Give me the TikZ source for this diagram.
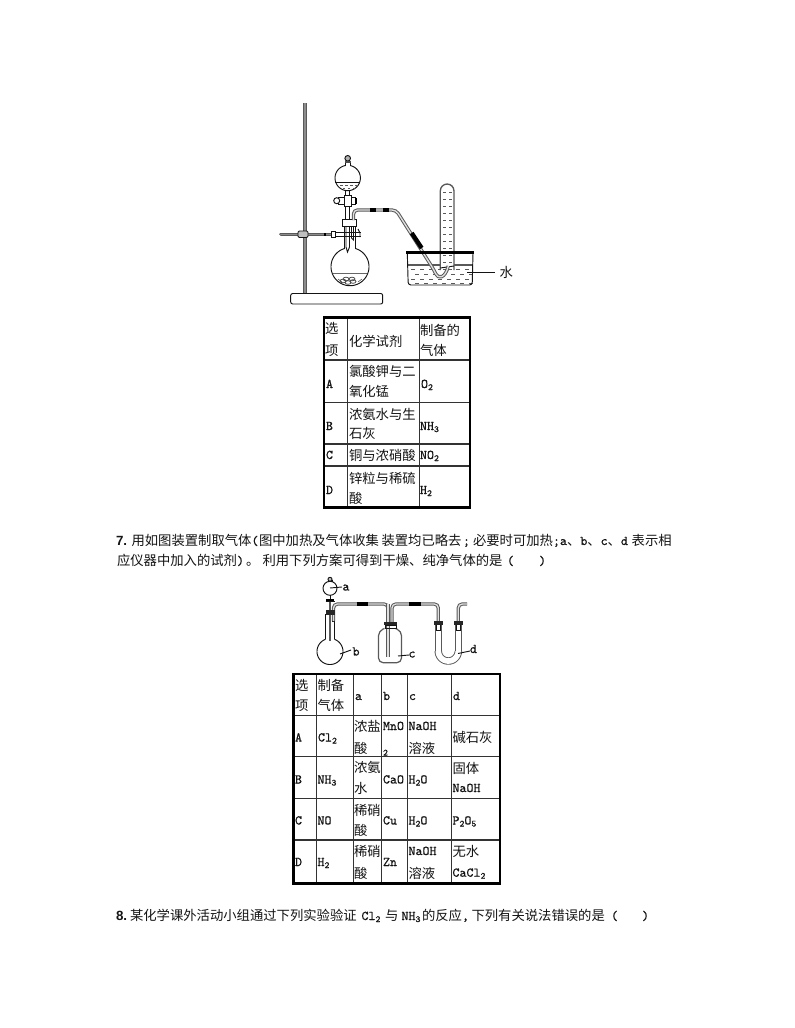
\documentclass[tikz,border=0pt]{standalone}
\usepackage{fontspec}
\setmainfont{Noto Sans CJK SC}
\setmonofont{Latin Modern Mono}[FakeBold=0.6]
\newfontfamily\boldlat{Liberation Sans}[Scale=1]
\newcommand{\lt}[1]{{\ttfamily #1}}
\newcommand{\sbs}[1]{{\ttfamily\fontsize{7pt}{7pt}\selectfont\raisebox{-1.5pt}{#1}}}
\newcommand{\fwid}[1]{\makebox[10pt][l]{#1}}
\definecolor{inkk}{gray}{0.08}
\definecolor{tubeg}{gray}{0.35}
\tikzset{
  txt/.style={anchor=base west,inner sep=0pt,outer sep=0pt,font=\fontsize{10pt}{15pt}\selectfont,text=inkk},
  thin line/.style={draw=inkk,line width=0.7pt},
  tube/.style={draw=tubeg,line width=0.75pt,double=black!12,double distance=1pt,rounded corners=3pt},
  rodline/.style={draw=tubeg,line width=0.75pt,double=black!45,double distance=1.2pt},
  rubber/.style={draw=black,line width=3.2pt},
  outerline/.style={draw=black,line width=2pt},
  innerline/.style={draw=black!80,line width=0.85pt},
  waterdash/.style={draw=black!65,line width=0.6pt}
}
\newcommand{\cell}[4]{\node[txt] (#1) at (#2,#3) {#4};}
\begin{document}
\begin{tikzpicture}[x=0.75pt,y=-0.75pt]
\useasboundingbox (0,0) rectangle (794,1028);
\fill[white] (0,0) rectangle (794,1028);

%%% Apparatus 1
% stand
\draw[rodline] (305,103) -- (305,293);
\draw[thin line,fill=white,rounded corners=1.5pt] (290.7,293.5) -- (382.7,293.5) -- (382.7,304) -- (290.7,304) -- cycle;
\draw[rodline,line cap=round] (281,234.3) -- (332,234.3);
\draw[thin line,fill=black!25,rounded corners=1pt] (298,231) rectangle (308,237.5);
\fill[black] (323.5,232.5) rectangle (325.5,236);
\draw[thin line,fill=white] (331,231.5) rectangle (335,237);
\draw[thin line] (335,232) -- (361,232) (335,236.5) -- (361,236.5);
\draw[thin line] (358,229) -- (360,233) -- (360,237);
% flask
\draw[thin line,fill=white] plot[samples=70,domain=253.2:-73.2] ({350+19*cos(\x)},{266.7+19*sin(\x)});
\draw[thin line] (344.5,226) -- (344.5,248.5) (355.5,226) -- (355.5,248.5);
\draw[draw=black!60,line width=0.9pt] (333,273.3) -- (367,273.3);
\foreach \a/\b in {343/281,348/282.5,353/281.5,346/279,352/279}{
  \draw[draw=black!70,line width=0.6pt] (\a,\b) ellipse [x radius=3,y radius=1.8];
}
\draw[draw=black!70,line width=0.4pt] (338,279)--(342,282) (362,279)--(358,282);
% stem into flask
\draw[thin line] (346,226) -- (346,247) -- (347.5,252) -- (349.5,247) -- (349.5,226);
\draw[thin line] (351.5,226) -- (351.5,238) -- (353.5,240) -- (353.5,226);
% stopper flask
\draw[thin line,fill=white] (342.7,219) rectangle (356,226);
% funnel
\draw[thin line,fill=white] plot[samples=60,domain=-110:280] ({347.7+12.7*cos(\x)},{178+12.7*sin(\x)});
\draw[thin line] (335.3,182.7) -- (360.1,182.7);
\foreach \a in {340,345,350,355}{\draw[waterdash] (\a,185.5) -- (\a+2.5,185.5);}
\foreach \a in {343,348,353}{\draw[waterdash] (\a,188) -- (\a+2,188);}
\draw[thin line,fill=white] (345,166) -- (345,161.5) -- (350.5,161.5) -- (350.5,166);
\draw[thin line,fill=black!30] (347.7,158.3) circle [radius=2.8];
\fill[black!70] (344.5,160.5) rectangle (351,162.5);
\draw[thin line] (345.8,190) -- (345.8,219) (349.8,190) -- (349.8,219);
% stopcock
\draw[thin line,fill=white] (338,197.5) rectangle (355,204);
\fill[black] (355,198) rectangle (356.8,203.5);
\draw[thin line,fill=white] (336.7,200.7) circle [radius=3];
\draw[thin line,fill=white] (344,195) rectangle (351,206);
% water trough
\foreach \r/\o in {269/0,274/4,279/0,283/4}{
  \foreach \k in {0,...,6}{
    \draw[waterdash] (411+\o+\k*9,\r) -- (415+\o+\k*9,\r);
  }
}
\draw[draw=tubeg,line width=1.1pt] (408,265) -- (472.5,265);
\draw[thin line,rounded corners=2pt] (407.3,253) -- (408.2,285) -- (472.2,285) -- (473,253);
% test tube
\draw[draw=tubeg,line width=1pt,fill=white,rounded corners=5.2pt] (440.3,270) -- (440.3,184) -- (454,184) -- (454,270);
\foreach \r in {192,199,...,269}{
  \draw[waterdash] (443,\r) -- (446,\r) (449,\r) -- (452,\r);
}
\draw[thin line] (440.3,268) -- (454,266);
% delivery tube
\draw[tube,fill=none] (353.5,220) -- (353.5,210) -- (396,210) -- (434,270) .. controls (438,279) and (445,279) .. (448.3,266);
\draw[rubber] (370,210) -- (376,210) (383,210) -- (389,210);
\draw[rubber] (411.7,233) -- (421.7,248);
\draw[draw=black,line width=1.9pt] (406,252.7) -- (474,252.7);
% label water
\draw[thin line] (467,272.7) -- (495,272.7);
\cell{shui}{499.5}{277.5}{水}

%%% Table 1
\draw[innerline] (347.7,317) -- (347.7,507.5) (419.3,317) -- (419.3,507.5);
\draw[innerline] (324,360) -- (470,360) (324,402.3) -- (470,402.3) (324,444) -- (470,444) (324,466) -- (470,466);
\draw[outerline] (324,317.3) rectangle (470,507.3);
\cell{ta1}{325}{333.3}{选}
\cell{ta2}{325}{355}{项}
\cell{tb}{349}{346.7}{化学试剂}
\cell{tc1}{420}{335}{制备的}
\cell{tc2}{420}{355}{气体}
\cell{ra}{326}{388}{\lt{A}}
\cell{rb1}{349}{376.7}{氯酸钾与二}
\cell{rb2}{349}{396.7}{氧化锰}
\cell{rc}{421}{388}{\lt{O}\sbs{2}}
\cell{sa}{326}{430}{\lt{B}}
\cell{sb1}{349}{419.3}{浓氨水与生}
\cell{sb2}{349}{438.3}{石灰}
\cell{sc}{420}{430}{\lt{NH}\sbs{3}}
\cell{ua}{326}{459}{\lt{C}}
\cell{ub}{349}{460}{铜与浓硝酸}
\cell{uc}{420}{459}{\lt{NO}\sbs{2}}
\cell{va}{326}{494}{\lt{D}}
\cell{vb1}{349}{483.3}{锌粒与稀硫}
\cell{vb2}{349}{503.3}{酸}
\cell{vc}{420}{494}{\lt{H}\sbs{2}}

%%% Question 7
\node[txt,font=\fontsize{10pt}{15pt}\boldlat\bfseries] (q7n) at (116,545) {7.};
\cell{q7a}{131.5}{545}{用如图装置制取气体\lt{(}}
\cell{q7a1}{259}{545}{图中加热及气体收集}
\cell{q7a1a}{381.5}{545}{装置均已略去}
\cell{q7a1b}{463}{545}{\lt{;}}
\cell{q7a1c}{473}{545}{必要时可加热}
\cell{q7a1d}{553}{545}{\lt{;}}
\cell{q7a2}{560}{545}{\lt{a}\fwid{、}\lt{b}\fwid{、}\lt{c}\fwid{、}\lt{d}}
\cell{q7a3}{631.7}{545}{表示相}
\cell{q7b}{117}{565}{应仪器中加入的试剂\lt{)}\hspace{1.5pt}。}
\cell{q7c}{262.5}{565}{利用下列方案可得到干燥、纯净气体的是}
\cell{q7d}{507}{565}{\lt{(}}
\cell{q7e}{539}{565}{\lt{)}}

%%% Apparatus 2
% bulb a
\draw[thin line,fill=white] (330,588.3) circle [radius=7];
\draw[thin line,fill=white] (328,582) -- (328,580) (332,582) -- (332,580);
\draw[thin line,fill=black!25] (330,579.3) circle [radius=2];
\draw[thin line] (330,595.3) -- (330,600);
\fill[black] (326,598.5) rectangle (334,600.5);
\draw[thin line] (325.5,601.5) -- (334.5,601.5);
\draw[thin line] (330,588) -- (342,587);
\cell{la}{342.5}{590.5}{\lt{a}}
% flask b
\draw[thin line,fill=white] plot[samples=70,domain=250:-70] ({330+13*cos(\x)},{651.5+13*sin(\x)});
\draw[thin line] (325.6,639.3) -- (325.6,614) (334.4,639.3) -- (334.4,614);
\draw[draw=tubeg,line width=1.6pt] (329.7,602) -- (329.7,641);
\draw[thin line] (332,614) -- (332,621.5) -- (334.4,621.5);
\draw[tube] (333.5,621) -- (333.5,604) -- (388,604) -- (388,657);
\fill[black!85] (325.5,609.5) rectangle (334.5,614.5);
\draw[thin line] (340,654) -- (351,650);
\cell{lb}{352.5}{655.5}{\lt{b}}
% bottle c
\draw[thin line,draw=tubeg,line width=0.9pt,rounded corners=3.5pt,fill=white] (384.5,628.5) -- (378.5,631) -- (378.5,662.7) -- (401.5,662.7) -- (401.5,631) -- (395.5,628.5);
\draw[tube] (392,622) -- (392,604) -- (438.3,604) -- (438.3,622);
\draw[tube] (388,604) -- (388,657);
\fill[black!85] (384,621.7) rectangle (397,625);
\draw[thin line] (385,625) rectangle (396,628.5);
\draw[thin line] (398,656) -- (409,655);
\cell{lc}{408.5}{657.5}{\lt{c}}
% rubbers
\draw[rubber] (356.7,604) -- (368.3,604) (409,604) -- (420.7,604);
% U tube d
\draw[draw=tubeg,line width=0.7pt,double=white,double distance=4.2pt] plot[samples=40,domain=180:0] ({448.3+10*cos(\x)},{651+10*sin(\x)});
\draw[draw=tubeg,line width=0.7pt,double=white,double distance=4.2pt] (438.3,622) -- (438.3,651);
\draw[draw=tubeg,line width=0.7pt,double=white,double distance=4.2pt] (458.3,622) -- (458.3,651);
\draw[tube] (458.3,622) -- (458.3,604) -- (467,604);
\fill[black!85] (434,621) rectangle (443,624.5);
\fill[black!85] (454,621) rectangle (463,624.5);
\draw[thin line] (436.5,624.5) -- (436.5,630) -- (440,630) -- (440,624.5);
\draw[thin line] (456.5,624.5) -- (456.5,630) -- (460,630) -- (460,624.5);
\draw[thin line] (458,653.5) -- (470,651);
\cell{ld}{470}{653}{\lt{d}}

%%% Table 2
\draw[innerline] (316.7,674) -- (316.7,883.3) (353.3,674) -- (353.3,883.3) (381.7,674) -- (381.7,883.3) (407.3,674) -- (407.3,883.3) (451.7,674) -- (451.7,883.3);
\draw[innerline] (293.3,715.7) -- (500,715.7) (293.3,756.7) -- (500,756.7) (293.3,798.3) -- (500,798.3) (293.3,840) -- (500,840);
\draw[outerline] (293.3,674) rectangle (500,883.3);
\cell{h1a}{295}{690}{选}
\cell{h1b}{295}{710}{项}
\cell{h2a}{317.5}{690}{制备}
\cell{h2b}{317.5}{710}{气体}
\cell{h3}{355}{700}{\lt{a}}
\cell{h4}{383}{700}{\lt{b}}
\cell{h5}{409}{700}{\lt{c}}
\cell{h6}{453}{700}{\lt{d}}
\cell{a1}{295}{741.5}{\lt{A}}
\cell{a2}{318}{741.5}{\lt{Cl}\sbs{2}}
\cell{a3a}{354}{731.7}{浓盐}
\cell{a3b}{354}{753}{酸}
\cell{a4a}{383}{730}{\lt{MnO}}
\cell{a4b}{383}{753.5}{\sbs{2}}
\cell{a5a}{408.5}{730}{\lt{NaOH}}
\cell{a5b}{408.5}{753}{溶液}
\cell{a6}{452.5}{742}{碱石灰}
\cell{b1}{295}{783.5}{\lt{B}}
\cell{b2}{317.5}{783.5}{\lt{NH}\sbs{3}}
\cell{b3a}{354}{772.7}{浓氨}
\cell{b3b}{354}{793.3}{水}
\cell{b4}{383}{783.5}{\lt{CaO}}
\cell{b5}{408.5}{783.5}{\lt{H}\sbs{2}\lt{O}}
\cell{b6a}{452.5}{773}{固体}
\cell{b6b}{452.5}{792}{\lt{NaOH}}
\cell{c1}{295}{824.5}{\lt{C}}
\cell{c2}{317.5}{824.5}{\lt{NO}}
\cell{c3a}{354}{815}{稀硝}
\cell{c3b}{354}{835.7}{酸}
\cell{c4}{383}{824.5}{\lt{Cu}}
\cell{c5}{408.5}{824.5}{\lt{H}\sbs{2}\lt{O}}
\cell{c6}{452.5}{824.5}{\lt{P}\sbs{2}\lt{O}\sbs{5}}
\cell{d1}{295}{866}{\lt{D}}
\cell{d2}{317.5}{866}{\lt{H}\sbs{2}}
\cell{d3a}{354}{856.7}{稀硝}
\cell{d3b}{354}{878.3}{酸}
\cell{d4}{383}{866}{\lt{Zn}}
\cell{d5a}{408.5}{855}{\lt{NaOH}}
\cell{d5b}{408.5}{878}{溶液}
\cell{d6a}{452.5}{856.7}{无水}
\cell{d6b}{452.5}{876.7}{\lt{CaCl}\sbs{2}}

%%% Question 8
\node[txt,font=\fontsize{10pt}{15pt}\boldlat\bfseries] (q8n) at (116,920) {8.};
\cell{q8a}{130}{920}{某化学课外活动小组通过下列实验验证}
\cell{q8b}{361.5}{920}{\lt{Cl}\sbs{2}}
\cell{q8c}{385}{920}{与}
\cell{q8d}{401.5}{920}{\lt{NH}\sbs{3}}
\cell{q8e}{422}{920}{的反应}
\cell{q8f}{462}{920}{\lt{,}}
\cell{q8g}{471.5}{920}{下列有关说法错误的是}
\cell{q8h}{611}{920}{\lt{(}}
\cell{q8i}{642}{920}{\lt{)}}
\end{tikzpicture}
\end{document}
